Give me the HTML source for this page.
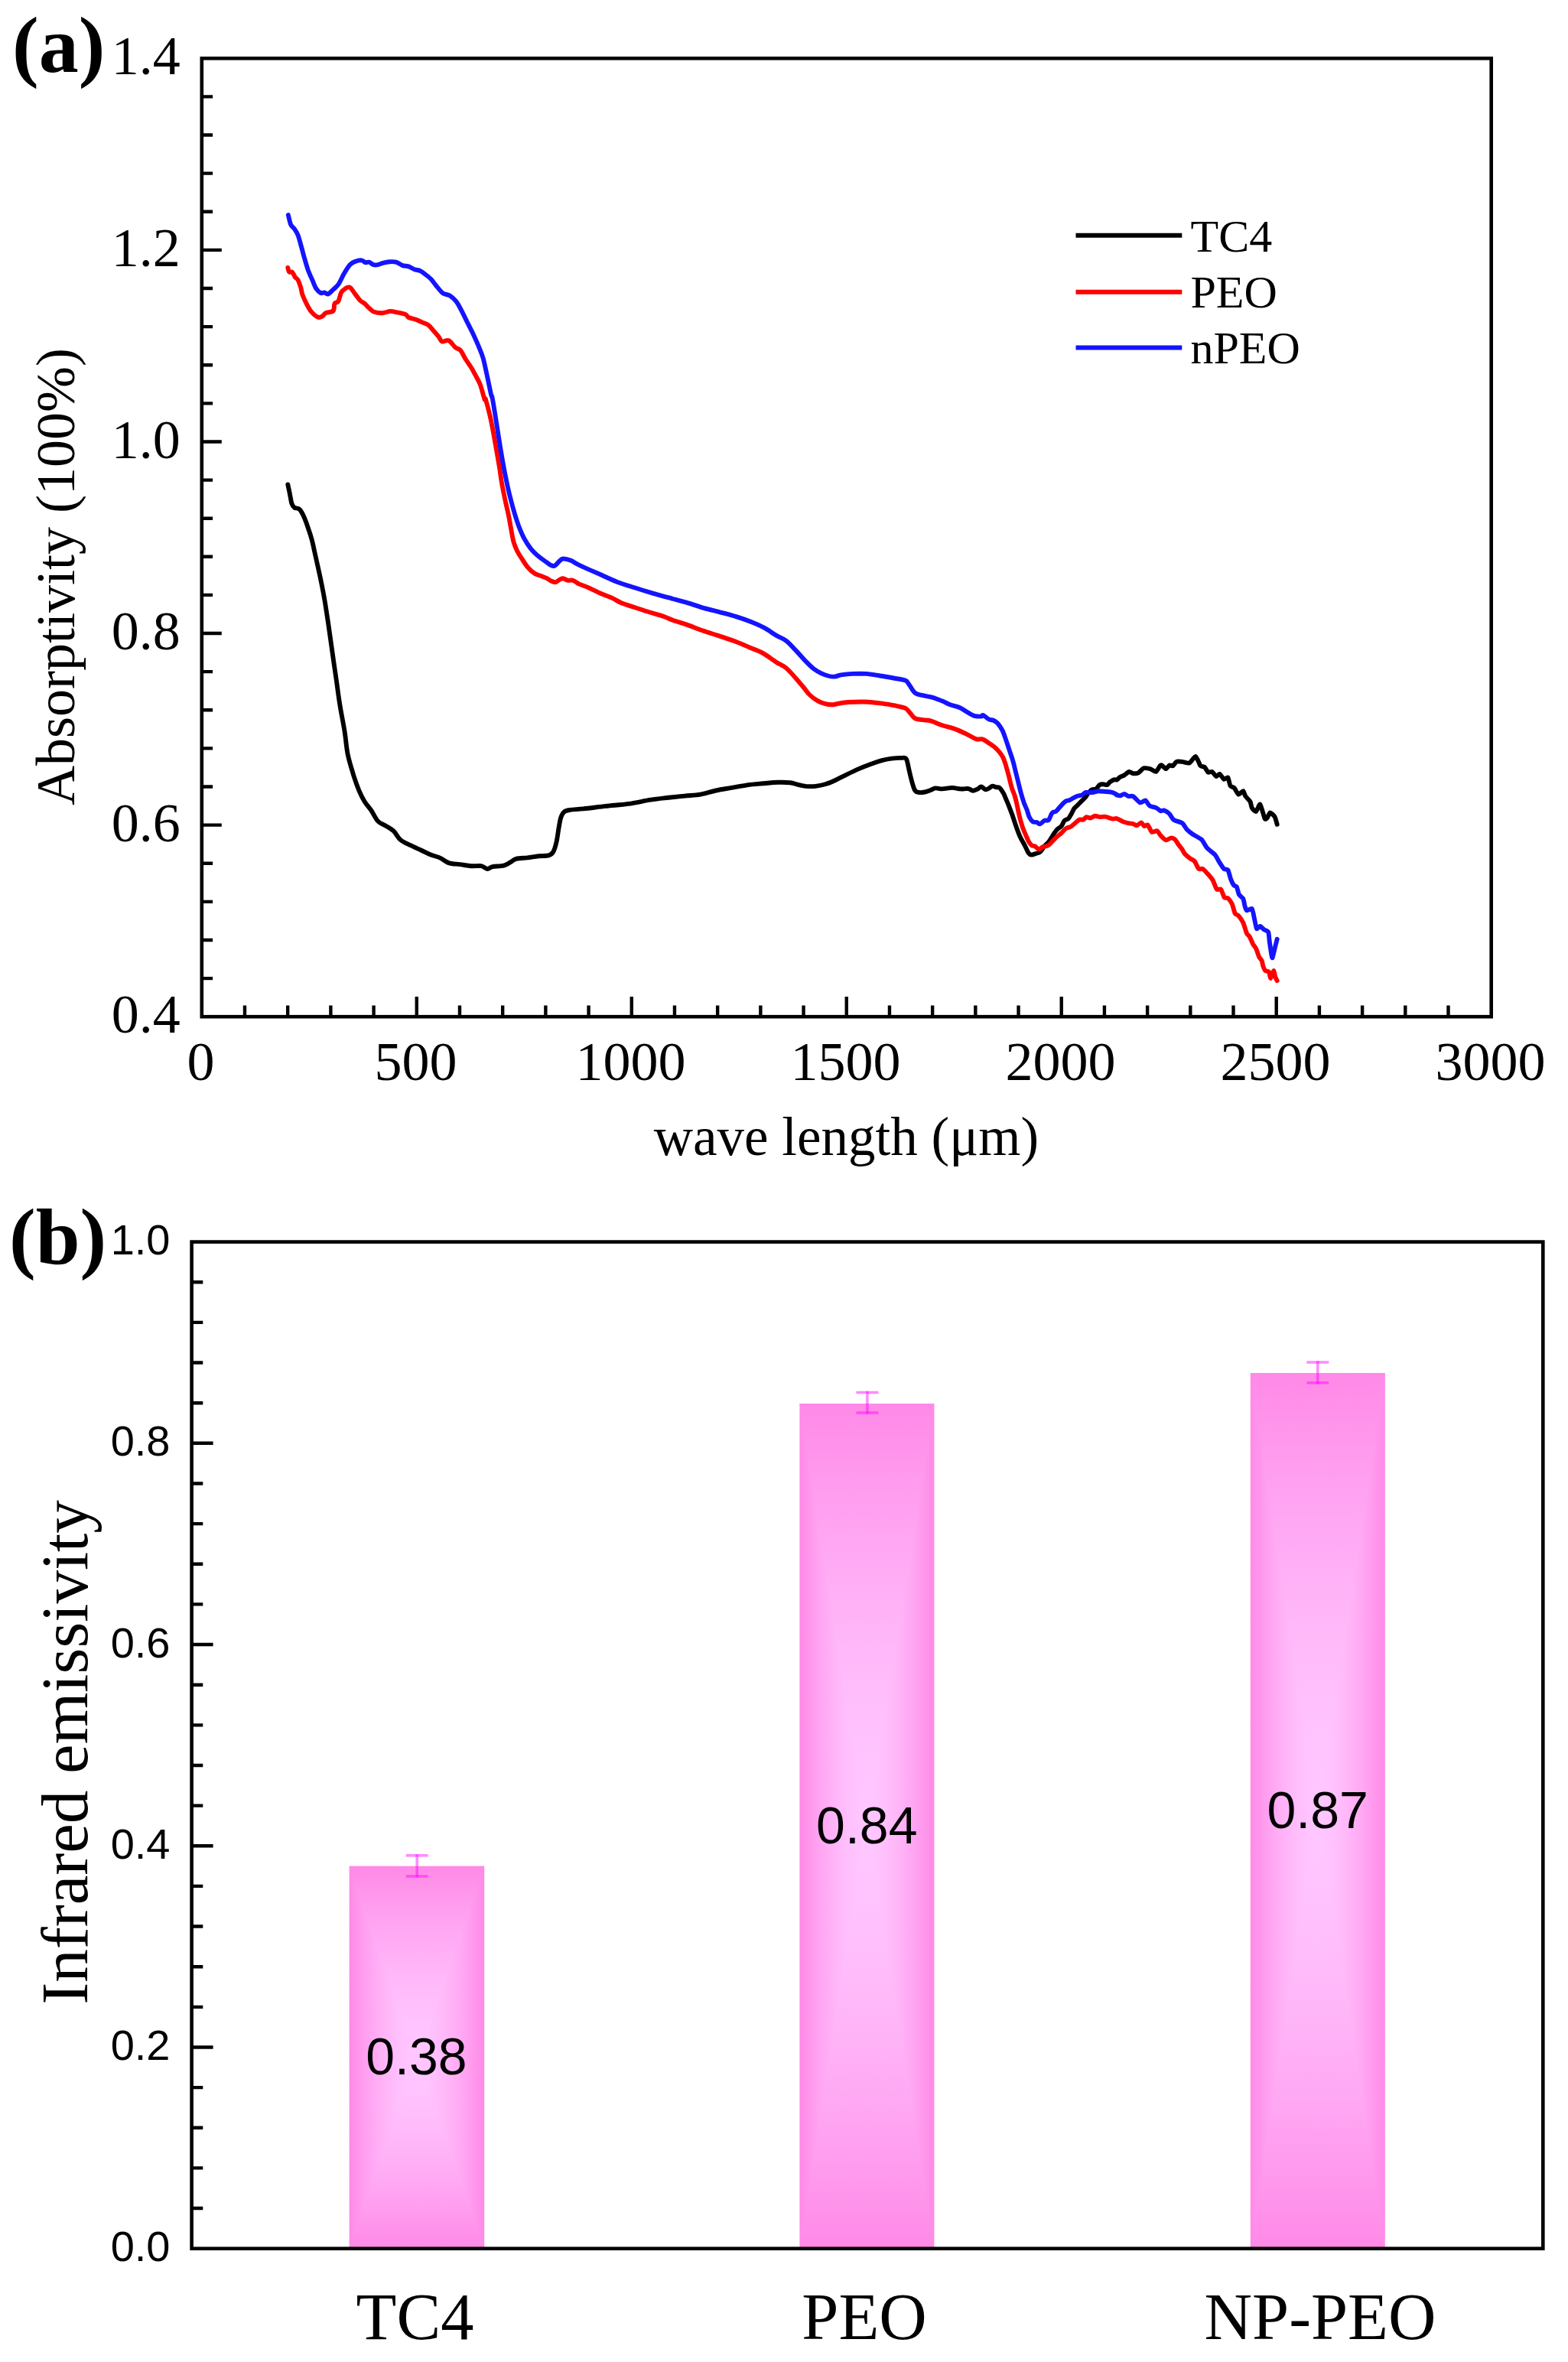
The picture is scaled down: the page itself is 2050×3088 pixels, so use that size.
<!DOCTYPE html>
<html lang="en"><head><meta charset="utf-8"><title>Absorptivity and infrared emissivity</title>
<style>html,body{margin:0;padding:0;background:#fff}svg{display:block}.s{font-family:"Liberation Serif",serif}.a{font-family:"Liberation Sans",sans-serif}.ax{stroke:#000;fill:none;stroke-linecap:butt}</style></head><body>
<svg width="2050" height="3088" viewBox="0 0 2050 3088">
<defs><linearGradient id="gh" x1="0" y1="0" x2="1" y2="0"><stop offset="0.0000" stop-color="#ff89e7"/><stop offset="0.0417" stop-color="#ff91ea"/><stop offset="0.0833" stop-color="#ff99ed"/><stop offset="0.1250" stop-color="#ffa0f0"/><stop offset="0.1667" stop-color="#ffa7f3"/><stop offset="0.2083" stop-color="#ffadf5"/><stop offset="0.2500" stop-color="#ffb3f7"/><stop offset="0.2917" stop-color="#ffb8f9"/><stop offset="0.3333" stop-color="#ffbcfb"/><stop offset="0.3750" stop-color="#ffc0fd"/><stop offset="0.4167" stop-color="#ffc3fe"/><stop offset="0.4583" stop-color="#ffc5ff"/><stop offset="0.5000" stop-color="#ffc6ff"/><stop offset="0.5417" stop-color="#ffc5ff"/><stop offset="0.5833" stop-color="#ffc3fe"/><stop offset="0.6250" stop-color="#ffc0fd"/><stop offset="0.6667" stop-color="#ffbcfb"/><stop offset="0.7083" stop-color="#ffb8f9"/><stop offset="0.7500" stop-color="#ffb3f7"/><stop offset="0.7917" stop-color="#ffadf5"/><stop offset="0.8333" stop-color="#ffa7f3"/><stop offset="0.8750" stop-color="#ffa0f0"/><stop offset="0.9167" stop-color="#ff99ed"/><stop offset="0.9583" stop-color="#ff91ea"/><stop offset="1.0000" stop-color="#ff89e7"/></linearGradient><linearGradient id="gt" x1="0" y1="0" x2="0" y2="1"><stop offset="0.0000" stop-color="#ff89e7"/><stop offset="0.0833" stop-color="#ff91ea"/><stop offset="0.1667" stop-color="#ff99ed"/><stop offset="0.2500" stop-color="#ffa0f0"/><stop offset="0.3333" stop-color="#ffa7f3"/><stop offset="0.4167" stop-color="#ffadf5"/><stop offset="0.5000" stop-color="#ffb3f7"/><stop offset="0.5833" stop-color="#ffb8f9"/><stop offset="0.6667" stop-color="#ffbcfb"/><stop offset="0.7500" stop-color="#ffc0fd"/><stop offset="0.8333" stop-color="#ffc3fe"/><stop offset="0.9167" stop-color="#ffc5ff"/><stop offset="1.0000" stop-color="#ffc6ff"/></linearGradient><linearGradient id="gb" x1="0" y1="0" x2="0" y2="1"><stop offset="0.0000" stop-color="#ffc6ff"/><stop offset="0.0833" stop-color="#ffc5ff"/><stop offset="0.1667" stop-color="#ffc3fe"/><stop offset="0.2500" stop-color="#ffc0fd"/><stop offset="0.3333" stop-color="#ffbcfb"/><stop offset="0.4167" stop-color="#ffb8f9"/><stop offset="0.5000" stop-color="#ffb3f7"/><stop offset="0.5833" stop-color="#ffadf5"/><stop offset="0.6667" stop-color="#ffa7f3"/><stop offset="0.7500" stop-color="#ffa0f0"/><stop offset="0.8333" stop-color="#ff99ed"/><stop offset="0.9167" stop-color="#ff91ea"/><stop offset="1.0000" stop-color="#ff89e7"/></linearGradient></defs>
<rect width="2050" height="3088" fill="#fff"/>
<g id="chart-a">
<rect class="ax" x="263.8" y="76.3" width="1685.9" height="1252.9" stroke-width="4.6"/>
<path class="ax" stroke-width="4.4" d="M263.8 126.42h14.3M263.8 176.53h14.3M263.8 226.65h14.3M263.8 276.76h14.3M263.8 326.88h26M263.8 377.00h14.3M263.8 427.11h14.3M263.8 477.23h14.3M263.8 527.34h14.3M263.8 577.46h26M263.8 627.58h14.3M263.8 677.69h14.3M263.8 727.81h14.3M263.8 777.92h14.3M263.8 828.04h26M263.8 878.16h14.3M263.8 928.27h14.3M263.8 978.39h14.3M263.8 1028.50h14.3M263.8 1078.62h26M263.8 1128.74h14.3M263.8 1178.85h14.3M263.8 1228.97h14.3M263.8 1279.08h14.3M320.00 1329.2v-14.7M376.19 1329.2v-14.7M432.39 1329.2v-14.7M488.59 1329.2v-14.7M544.78 1329.2v-26.2M600.98 1329.2v-14.7M657.18 1329.2v-14.7M713.37 1329.2v-14.7M769.57 1329.2v-14.7M825.77 1329.2v-26.2M881.96 1329.2v-14.7M938.16 1329.2v-14.7M994.36 1329.2v-14.7M1050.55 1329.2v-14.7M1106.75 1329.2v-26.2M1162.95 1329.2v-14.7M1219.14 1329.2v-14.7M1275.34 1329.2v-14.7M1331.54 1329.2v-14.7M1387.73 1329.2v-26.2M1443.93 1329.2v-14.7M1500.13 1329.2v-14.7M1556.32 1329.2v-14.7M1612.52 1329.2v-14.7M1668.72 1329.2v-26.2M1724.91 1329.2v-14.7M1781.11 1329.2v-14.7M1837.31 1329.2v-14.7M1893.50 1329.2v-14.7"/>
<text class="s" x="235.7" y="97.3" font-size="72" text-anchor="end">1.4</text>
<text class="s" x="235.7" y="347.9" font-size="72" text-anchor="end">1.2</text>
<text class="s" x="235.7" y="598.5" font-size="72" text-anchor="end">1.0</text>
<text class="s" x="235.7" y="849.0" font-size="72" text-anchor="end">0.8</text>
<text class="s" x="235.7" y="1099.6" font-size="72" text-anchor="end">0.6</text>
<text class="s" x="235.7" y="1350.2" font-size="72" text-anchor="end">0.4</text>
<text class="s" x="262.6" y="1411.8" font-size="72" text-anchor="middle">0</text>
<text class="s" x="543.6" y="1411.8" font-size="72" text-anchor="middle">500</text>
<text class="s" x="824.6" y="1411.8" font-size="72" text-anchor="middle">1000</text>
<text class="s" x="1105.5" y="1411.8" font-size="72" text-anchor="middle">1500</text>
<text class="s" x="1386.5" y="1411.8" font-size="72" text-anchor="middle">2000</text>
<text class="s" x="1667.5" y="1411.8" font-size="72" text-anchor="middle">2500</text>
<text class="s" x="1948.5" y="1411.8" font-size="72" text-anchor="middle">3000</text>
<text class="s" x="1106.5" y="1509.5" font-size="71" text-anchor="middle">wave length (μm)</text>
<text class="s" transform="translate(96.5 754) rotate(-90)" font-size="72" text-anchor="middle">Absorptivity (100%)</text>
<text class="s" x="16" y="94" font-size="104" font-weight="bold">(a)</text>
<path d="M376.3 633.4C376.7 635.6 378.3 642.6 379.1 646.8C380.0 650.9 380.5 655.5 381.4 658.3C382.4 661.1 383.2 662.3 384.9 663.6C386.6 664.9 389.5 663.9 391.6 665.9C393.6 667.9 395.4 671.3 397.3 675.5C399.2 679.6 401.3 685.7 403.0 690.8C404.8 695.9 406.4 700.7 407.8 706.1C409.3 711.5 410.2 716.9 411.7 723.3C413.1 729.7 414.8 737.0 416.4 744.4C418.0 751.7 419.8 760.0 421.2 767.3C422.7 774.7 423.8 780.7 425.1 788.4C426.3 796.0 427.6 804.6 428.9 813.2C430.2 821.8 431.4 831.1 432.7 840.0C434.0 849.0 435.3 857.9 436.5 866.8C437.8 875.7 439.1 884.7 440.4 893.6C441.6 902.5 442.7 911.5 444.2 920.4C445.6 929.3 447.8 940.6 449.0 947.2C450.1 953.8 450.2 953.5 451.1 960.0C452.1 966.5 452.9 977.6 454.7 986.4C456.5 995.2 459.6 1005.0 462.0 1012.8C464.4 1020.6 466.9 1027.5 469.3 1033.3C471.8 1039.2 474.0 1043.6 476.7 1048.0C479.4 1052.4 482.5 1055.4 485.5 1059.7C488.4 1064.0 491.1 1070.5 494.3 1073.8C497.5 1077.2 501.1 1077.5 504.5 1079.7C508.0 1081.8 511.6 1083.7 514.8 1086.7C518.0 1089.8 519.9 1094.8 523.6 1097.9C527.3 1101.0 532.2 1102.9 536.8 1105.2C541.5 1107.6 547.1 1109.9 551.5 1112.0C555.9 1114.0 559.3 1116.0 563.2 1117.5C567.1 1119.1 571.0 1119.6 574.9 1121.4C578.9 1123.1 582.3 1126.6 586.7 1128.1C591.1 1129.6 596.5 1129.5 601.4 1130.2C606.2 1130.8 611.4 1131.9 616.0 1132.2C620.7 1132.5 625.7 1131.6 629.2 1132.2C632.7 1132.8 634.7 1135.9 637.1 1136.0C639.6 1136.2 640.3 1133.8 643.9 1133.1C647.5 1132.4 654.6 1132.6 658.6 1131.6C662.5 1130.6 664.7 1128.7 667.4 1127.2C670.0 1125.8 671.0 1123.8 674.7 1122.8C678.4 1121.8 684.5 1121.9 689.4 1121.4C694.3 1120.8 699.4 1119.8 704.0 1119.3C708.7 1118.8 714.1 1119.3 717.2 1118.4C720.4 1117.5 721.4 1117.0 723.1 1114.0C724.8 1111.1 726.3 1106.0 727.5 1100.8C728.7 1095.7 729.5 1088.6 730.4 1083.2C731.4 1077.8 732.1 1072.2 733.4 1068.5C734.6 1064.9 735.8 1062.8 737.8 1061.2C739.7 1059.6 740.9 1059.5 745.1 1058.9C749.3 1058.2 754.9 1058.2 762.7 1057.4C770.5 1056.6 782.3 1055.0 792.0 1053.9C801.8 1052.8 811.6 1052.3 821.4 1050.9C831.2 1049.6 841.9 1047.0 850.7 1045.7C859.5 1044.3 866.8 1043.6 874.2 1042.7C881.6 1041.9 888.4 1041.3 895.3 1040.6C902.2 1039.9 908.9 1039.8 915.7 1038.6C922.5 1037.4 929.3 1034.9 936.1 1033.5C942.9 1032.0 949.7 1031.1 956.5 1029.9C963.3 1028.7 970.1 1027.3 976.9 1026.3C983.7 1025.4 990.5 1024.9 997.3 1024.3C1004.1 1023.7 1011.8 1022.9 1017.8 1022.8C1023.7 1022.6 1028.8 1022.8 1033.1 1023.3C1037.3 1023.8 1039.9 1025.1 1043.3 1025.8C1046.7 1026.6 1049.6 1027.5 1053.5 1027.9C1057.3 1028.2 1062.0 1028.3 1066.2 1027.9C1070.5 1027.4 1074.7 1026.6 1079.0 1025.3C1083.2 1024.0 1087.1 1022.3 1091.7 1020.2C1096.4 1018.1 1101.9 1015.0 1107.0 1012.6C1112.1 1010.1 1117.2 1007.6 1122.3 1005.4C1127.4 1003.2 1132.6 1001.2 1137.7 999.3C1142.8 997.4 1148.3 995.5 1153.0 994.2C1157.6 992.9 1161.5 992.2 1165.7 991.6C1170.0 991.1 1175.3 990.8 1178.5 990.9C1181.7 991.0 1183.1 989.4 1184.8 992.1C1186.5 994.9 1187.4 1002.3 1188.7 1007.4C1189.9 1012.6 1191.2 1018.4 1192.5 1022.8C1193.8 1027.1 1194.8 1031.3 1196.3 1033.5C1197.8 1035.7 1199.3 1035.7 1201.4 1036.0C1203.6 1036.4 1206.5 1036.0 1209.1 1035.5C1211.6 1035.0 1214.4 1033.8 1216.7 1033.0C1219.1 1032.1 1220.6 1030.7 1223.1 1030.4C1225.7 1030.2 1228.4 1031.5 1232.0 1031.4C1235.7 1031.3 1241.0 1029.9 1244.8 1029.9C1248.6 1029.9 1252.5 1031.2 1255.0 1031.4C1257.5 1031.7 1258.1 1031.5 1260.0 1031.4C1261.9 1031.4 1264.1 1030.7 1266.1 1031.1C1268.2 1031.5 1270.2 1033.7 1272.2 1033.7C1274.3 1033.8 1276.6 1032.3 1278.4 1031.4C1280.2 1030.5 1281.3 1028.2 1283.0 1028.4C1284.6 1028.5 1286.7 1031.8 1288.3 1032.2C1290.0 1032.6 1291.4 1031.4 1292.9 1030.7C1294.4 1029.9 1296.0 1027.9 1297.5 1027.6C1299.0 1027.3 1300.6 1028.8 1302.1 1029.1C1303.6 1029.5 1305.2 1028.8 1306.7 1029.9C1308.2 1031.0 1310.2 1034.3 1311.3 1036.0C1312.4 1037.7 1312.1 1037.3 1313.3 1040.0C1314.4 1042.7 1316.7 1048.0 1318.4 1052.2C1320.1 1056.5 1321.8 1060.7 1323.5 1065.5C1325.2 1070.3 1326.9 1076.1 1328.6 1080.8C1330.3 1085.6 1331.8 1090.0 1333.7 1094.1C1335.5 1098.2 1337.9 1101.7 1339.8 1105.3C1341.7 1108.9 1343.4 1113.5 1344.9 1115.5C1346.4 1117.6 1347.4 1117.5 1349.0 1117.6C1350.5 1117.6 1352.2 1116.7 1354.1 1116.0C1356.0 1115.3 1358.3 1115.1 1360.2 1113.5C1362.1 1111.9 1363.4 1108.5 1365.3 1106.3C1367.2 1104.1 1369.6 1102.6 1371.4 1100.2C1373.3 1097.8 1374.8 1094.6 1376.5 1092.0C1378.2 1089.5 1379.8 1086.9 1381.6 1084.9C1383.5 1082.9 1386.1 1081.8 1387.8 1079.8C1389.5 1077.8 1390.3 1074.3 1391.8 1072.7C1393.4 1071.0 1395.4 1071.6 1396.9 1070.1C1398.5 1068.6 1399.8 1065.6 1401.0 1063.5C1401.7 1062.2 1403.3 1058.5 1404.1 1057.3C1404.9 1056.2 1408.2 1053.3 1409.2 1052.2C1410.2 1051.2 1413.3 1048.2 1414.3 1047.1C1415.3 1046.1 1418.6 1043.0 1419.4 1042.0C1420.2 1041.1 1421.5 1038.5 1422.2 1037.6C1423.0 1036.6 1425.8 1033.3 1426.8 1032.7C1427.9 1032.0 1431.9 1032.1 1433.0 1031.4C1434.0 1030.8 1436.6 1026.7 1437.6 1026.1C1438.5 1025.5 1441.1 1025.3 1442.1 1025.3C1443.1 1025.3 1446.6 1026.4 1447.5 1026.1C1448.4 1025.8 1450.3 1022.9 1451.3 1022.2C1452.3 1021.6 1456.6 1019.4 1457.4 1019.2C1458.3 1018.9 1459.3 1019.9 1460.0 1019.6C1460.7 1019.2 1463.6 1016.4 1464.6 1015.8C1465.6 1015.2 1468.8 1014.2 1469.9 1013.5C1471.1 1012.8 1474.9 1009.1 1476.1 1008.9C1477.2 1008.6 1480.2 1011.0 1481.4 1011.2C1482.7 1011.3 1486.9 1011.1 1488.3 1010.4C1489.7 1009.7 1493.7 1004.8 1495.2 1004.3C1496.7 1003.8 1502.0 1004.6 1503.6 1005.1C1505.2 1005.5 1510.0 1009.3 1511.3 1008.9C1512.6 1008.5 1515.9 1002.1 1516.6 1001.2C1517.4 1000.4 1518.2 1000.1 1518.9 1000.5C1519.7 1000.8 1523.3 1005.1 1524.3 1005.1C1525.3 1005.1 1528.0 1000.8 1528.9 1000.5C1529.8 1000.1 1532.6 1001.7 1533.5 1001.2C1534.4 1000.8 1536.8 996.4 1538.1 995.9C1539.3 995.3 1544.0 995.7 1545.7 995.9C1547.4 996.0 1553.1 998.1 1554.9 997.4C1556.7 996.7 1561.9 988.6 1563.3 989.0C1564.8 989.4 1568.3 999.8 1569.4 1001.2C1570.6 1002.6 1573.8 1001.9 1574.8 1002.8C1575.8 1003.6 1578.4 1009.0 1579.4 1009.6C1580.4 1010.3 1583.7 1008.3 1584.7 1008.9C1585.8 1009.4 1589.1 1014.7 1590.1 1015.0C1591.1 1015.3 1593.7 1011.6 1594.7 1011.9C1595.7 1012.3 1599.0 1018.4 1600.1 1018.8C1601.1 1019.3 1604.6 1015.7 1605.4 1016.5C1606.2 1017.4 1607.6 1025.9 1608.5 1027.2C1609.3 1028.6 1612.8 1029.2 1613.8 1030.3C1614.9 1031.5 1618.0 1038.3 1619.2 1038.7C1620.3 1039.1 1624.4 1033.9 1625.3 1034.1C1626.2 1034.4 1627.4 1039.6 1628.4 1041.0C1629.3 1042.4 1633.6 1046.4 1634.5 1047.9C1635.3 1049.4 1636.0 1055.0 1636.8 1056.3C1637.6 1057.6 1641.1 1061.4 1642.1 1060.9C1643.2 1060.5 1646.4 1050.8 1647.5 1051.7C1648.6 1052.7 1652.7 1068.3 1653.6 1070.1C1654.5 1071.9 1656.0 1070.1 1656.7 1069.3C1657.4 1068.6 1659.5 1062.6 1660.5 1062.4C1661.5 1062.3 1665.7 1066.3 1666.6 1067.8C1667.6 1069.3 1669.4 1076.8 1669.7 1077.8" fill="none" stroke="#000" stroke-width="5.9" stroke-linejoin="round" stroke-linecap="round"/>
<path d="M376.3 349.9C376.6 350.9 377.2 354.7 378.2 355.7C379.1 356.6 380.7 354.5 382.0 355.7C383.3 356.8 384.6 360.6 385.8 362.4C387.1 364.1 388.4 363.8 389.7 366.2C390.9 368.6 392.5 373.5 393.5 376.7C394.4 379.9 394.1 381.8 395.4 385.3C396.7 388.8 399.2 394.1 401.1 397.8C403.0 401.4 404.5 404.5 406.9 407.3C409.3 410.1 413.1 413.5 415.5 414.6C417.9 415.6 419.5 414.5 421.2 413.6C423.0 412.7 423.6 410.4 426.0 409.2C428.4 408.0 433.7 408.4 435.6 406.4C437.5 404.3 436.4 398.9 437.5 396.8C438.6 394.7 440.8 396.3 442.3 393.9C443.7 391.5 444.7 385.2 446.1 382.4C447.5 379.7 449.0 378.8 450.9 377.7C452.8 376.5 455.3 374.6 457.6 375.8C459.8 376.9 462.0 381.5 464.3 384.4C466.5 387.2 468.9 390.9 471.0 393.0C473.0 395.0 474.6 395.0 476.7 396.8C478.8 398.6 481.3 401.7 483.4 403.5C485.5 405.3 486.4 406.7 489.1 407.7C491.9 408.7 496.2 409.4 499.7 409.2C503.2 409.1 507.0 407.1 510.2 406.9C513.4 406.8 515.5 407.6 518.8 408.3C522.1 409.0 527.7 410.0 530.3 411.1C532.8 412.3 531.9 413.9 534.1 415.0C536.3 416.1 540.8 416.8 543.7 417.8C546.5 418.9 548.6 419.9 551.3 421.1C554.0 422.3 557.4 423.1 559.9 424.9C562.5 426.8 564.4 429.7 566.6 432.2C568.9 434.7 571.4 437.5 573.3 439.8C575.2 442.2 575.9 445.7 578.1 446.5C580.3 447.4 583.9 443.9 586.7 445.2C589.6 446.5 592.8 452.1 595.3 454.2C597.9 456.3 599.8 455.5 602.0 458.0C604.3 460.6 606.3 465.7 608.7 469.5C611.1 473.3 614.1 477.3 616.4 481.0C618.6 484.6 620.2 487.8 622.1 491.5C624.0 495.2 625.9 497.9 627.9 503.0C629.8 508.1 632.4 518.9 633.6 522.1C634.8 525.3 633.7 518.4 634.9 522.0C636.0 525.7 639.0 536.7 640.7 544.0C642.4 551.4 643.7 558.7 645.1 566.1C646.5 573.4 647.7 580.7 649.0 588.1C650.2 595.4 651.6 602.8 652.8 610.1C654.0 617.4 654.8 624.8 656.1 632.1C657.4 639.4 659.0 646.8 660.5 654.1C662.1 661.5 663.9 668.8 665.4 676.1C666.8 683.5 668.3 692.7 669.3 698.2C670.4 703.7 670.6 705.5 671.7 709.2C672.9 712.8 674.3 716.5 676.1 720.2C678.0 723.9 680.4 727.5 682.8 731.2C685.1 734.9 687.7 739.1 690.5 742.2C693.2 745.3 696.3 748.1 699.3 749.9C702.2 751.7 705.3 752.1 708.1 753.2C710.8 754.3 713.7 755.5 715.8 756.5C717.9 757.6 718.8 758.8 720.5 759.5C722.3 760.3 724.4 761.4 726.3 761.1C728.2 760.8 730.4 758.4 732.0 757.6C733.7 756.8 734.5 756.1 736.2 756.3C738.0 756.5 740.4 758.4 742.5 758.8C744.7 759.2 746.8 758.0 749.2 758.8C751.6 759.5 753.4 761.7 756.9 763.4C760.4 765.0 765.5 766.6 770.3 768.7C775.1 770.8 780.5 773.8 785.6 776.0C790.7 778.2 796.4 780.1 800.9 782.1C805.4 784.2 807.6 786.3 812.4 788.2C817.2 790.2 823.5 792.0 829.6 794.0C835.7 796.0 842.3 798.3 848.7 800.3C855.1 802.3 862.6 804.2 867.9 806.0C873.1 807.8 875.0 809.3 880.0 811.0C885.0 812.8 891.5 814.4 897.9 816.6C904.2 818.8 911.5 821.9 918.3 824.3C925.1 826.7 931.9 828.7 938.7 830.9C945.5 833.2 952.3 835.3 959.1 837.8C965.9 840.4 973.1 843.5 979.5 846.2C985.9 848.9 991.4 850.6 997.3 853.9C1003.3 857.2 1010.1 862.6 1015.2 865.9C1020.3 869.1 1023.7 870.0 1028.0 873.5C1032.2 877.0 1036.9 882.8 1040.7 887.0C1044.5 891.3 1047.9 895.5 1050.9 899.0C1053.9 902.6 1055.6 905.6 1058.6 908.5C1061.5 911.3 1065.4 914.2 1068.8 916.1C1072.2 918.1 1075.6 919.4 1079.0 920.2C1082.4 921.1 1085.4 921.5 1089.2 921.2C1093.0 921.0 1097.3 919.3 1101.9 918.7C1106.6 918.1 1111.7 917.8 1117.2 917.7C1122.8 917.5 1129.1 917.3 1135.1 917.7C1141.1 918.0 1147.4 918.9 1153.0 919.7C1158.5 920.5 1163.2 921.2 1168.3 922.2C1173.4 923.3 1180.0 924.2 1183.6 925.8C1187.2 927.5 1187.8 930.0 1189.9 932.2C1192.1 934.4 1193.6 937.6 1196.3 939.1C1199.1 940.6 1203.1 940.6 1206.5 941.1C1209.9 941.7 1212.5 941.2 1216.7 942.4C1221.0 943.6 1226.9 946.6 1232.0 948.3C1237.1 950.0 1242.7 951.0 1247.3 952.6C1252.0 954.2 1256.6 956.4 1260.0 958.0C1263.4 959.5 1264.8 960.4 1267.7 961.8C1270.5 963.2 1274.0 965.6 1276.8 966.4C1279.6 967.1 1281.9 965.6 1284.5 966.4C1287.0 967.1 1289.6 969.3 1292.1 971.0C1294.7 972.6 1297.5 974.4 1299.8 976.3C1302.1 978.2 1304.0 980.2 1305.9 982.4C1307.8 984.7 1309.7 987.0 1311.3 990.1C1312.8 993.2 1313.8 996.7 1315.1 1000.8C1316.4 1004.9 1317.7 1009.7 1318.9 1014.6C1320.2 1019.4 1321.5 1025.7 1322.8 1029.9C1324.0 1034.1 1325.4 1036.3 1326.5 1040.0C1327.7 1043.7 1328.6 1047.8 1329.6 1052.2C1330.6 1056.7 1331.5 1061.8 1332.7 1066.5C1333.8 1071.3 1335.4 1076.7 1336.7 1080.8C1338.1 1084.9 1339.5 1087.8 1340.8 1091.0C1342.2 1094.3 1343.5 1097.8 1344.9 1100.2C1346.3 1102.6 1347.6 1104.3 1349.0 1105.3C1350.3 1106.3 1351.5 1105.5 1353.1 1106.3C1354.6 1107.2 1356.5 1110.2 1358.2 1110.4C1359.9 1110.6 1361.2 1108.2 1363.3 1107.3C1365.3 1106.5 1368.2 1106.7 1370.4 1105.3C1372.6 1103.9 1374.7 1101.1 1376.5 1099.2C1378.4 1097.3 1379.8 1095.8 1381.6 1094.1C1383.5 1092.4 1385.7 1090.9 1387.8 1089.0C1389.8 1087.1 1391.8 1084.2 1393.9 1082.9C1395.9 1081.5 1398.0 1082.0 1400.0 1080.8C1401.2 1080.1 1405.0 1076.6 1406.1 1075.7C1407.2 1074.8 1410.2 1072.0 1411.2 1071.6C1412.2 1071.2 1415.4 1072.0 1416.3 1071.6C1417.2 1071.3 1419.5 1068.3 1420.4 1068.1C1421.3 1067.9 1424.4 1069.7 1425.5 1069.6C1426.6 1069.5 1430.4 1066.9 1431.6 1066.7C1432.9 1066.6 1436.4 1068.0 1437.8 1068.1C1439.1 1068.1 1443.6 1067.4 1444.9 1067.6C1446.2 1067.7 1450.0 1069.3 1451.0 1069.6C1452.0 1069.9 1454.2 1070.6 1455.1 1070.6C1456.0 1070.7 1458.7 1069.8 1460.0 1070.1C1461.3 1070.4 1466.1 1073.3 1467.7 1073.9C1469.2 1074.5 1473.9 1075.9 1475.3 1076.2C1476.7 1076.5 1480.4 1076.7 1481.4 1077.0C1482.5 1077.3 1484.9 1079.4 1486.0 1079.3C1487.1 1079.1 1491.1 1075.4 1492.1 1075.5C1493.1 1075.5 1495.1 1079.7 1496.0 1080.1C1496.8 1080.4 1499.6 1077.8 1500.6 1078.5C1501.6 1079.3 1504.7 1086.9 1505.9 1087.7C1507.1 1088.5 1511.7 1085.7 1512.8 1086.2C1514.0 1086.6 1516.2 1091.1 1517.4 1092.3C1518.5 1093.5 1522.9 1098.1 1524.3 1098.4C1525.7 1098.7 1529.9 1095.4 1531.2 1095.4C1532.4 1095.3 1535.6 1096.8 1536.5 1097.7C1537.4 1098.5 1539.4 1102.5 1540.4 1103.8C1541.3 1105.1 1544.9 1109.4 1545.7 1110.7C1546.6 1111.9 1547.8 1114.9 1548.8 1116.0C1549.8 1117.2 1554.4 1121.1 1555.7 1122.1C1557.0 1123.1 1560.6 1124.6 1561.8 1126.0C1562.9 1127.3 1566.1 1134.9 1567.1 1135.9C1568.2 1136.9 1571.4 1135.3 1572.5 1135.9C1573.6 1136.5 1577.3 1140.6 1578.6 1142.0C1579.9 1143.5 1584.3 1148.4 1585.5 1150.5C1586.7 1152.5 1589.8 1161.5 1590.9 1162.7C1591.9 1163.9 1595.2 1161.6 1596.2 1162.7C1597.2 1163.8 1599.9 1172.3 1600.8 1173.4C1601.7 1174.6 1604.4 1173.3 1605.4 1174.2C1606.4 1175.0 1609.8 1179.8 1610.8 1181.8C1611.7 1183.8 1613.8 1192.6 1614.6 1194.1C1615.4 1195.6 1618.1 1195.9 1619.2 1197.1C1620.3 1198.4 1624.2 1204.0 1625.3 1206.3C1626.4 1208.6 1629.1 1218.3 1629.9 1220.1C1630.7 1221.9 1632.9 1223.2 1633.7 1224.7C1634.6 1226.1 1637.5 1233.1 1638.3 1234.6C1639.2 1236.2 1641.4 1238.4 1642.1 1240.0C1642.9 1241.6 1645.2 1249.1 1646.0 1250.7C1646.7 1252.3 1649.3 1254.8 1649.8 1256.1C1650.3 1257.3 1650.9 1261.7 1651.3 1263.0C1651.8 1264.3 1653.6 1268.3 1654.4 1269.1C1655.2 1269.8 1658.3 1269.6 1659.0 1270.6C1659.7 1271.6 1660.7 1279.2 1661.3 1279.0C1661.9 1278.9 1664.5 1269.2 1665.1 1269.1C1665.7 1268.9 1666.9 1276.2 1667.4 1277.5C1667.9 1278.8 1669.5 1281.6 1669.7 1282.1" fill="none" stroke="#f00" stroke-width="5.9" stroke-linejoin="round" stroke-linecap="round"/>
<path d="M376.8 281.0C377.4 283.1 378.8 290.5 380.1 293.5C381.4 296.5 383.3 296.8 384.9 299.2C386.5 301.6 388.1 303.7 389.7 307.8C391.2 312.0 393.0 319.0 394.4 324.1C395.9 329.2 396.8 333.5 398.3 338.4C399.7 343.4 401.3 349.0 403.0 353.8C404.8 358.5 407.0 363.2 408.8 367.1C410.5 371.1 411.8 375.0 413.6 377.7C415.3 380.3 417.6 382.2 419.3 383.0C421.1 383.8 422.5 382.2 424.1 382.4C425.7 382.7 427.0 385.0 428.9 384.4C430.8 383.7 433.3 380.7 435.6 378.6C437.8 376.5 439.9 375.4 442.3 371.9C444.7 368.4 447.4 361.9 449.9 357.6C452.5 353.3 455.2 348.7 457.6 346.1C460.0 343.5 461.7 342.8 464.3 341.9C466.8 340.9 470.7 340.1 472.9 340.4C475.1 340.6 476.1 342.8 477.7 343.2C479.3 343.6 480.7 342.2 482.4 342.7C484.2 343.1 486.3 345.5 488.2 346.1C490.1 346.7 491.9 346.5 493.9 346.1C496.0 345.7 498.1 344.4 500.6 343.8C503.2 343.2 506.4 342.5 509.2 342.3C512.1 342.1 515.0 341.9 517.8 342.7C520.7 343.5 523.7 346.1 526.5 347.1C529.2 348.0 531.6 347.5 534.1 348.4C536.7 349.3 539.2 351.3 541.8 352.2C544.3 353.2 546.9 352.9 549.4 354.1C552.0 355.3 554.7 357.6 557.1 359.5C559.5 361.3 561.5 362.8 563.8 365.2C566.0 367.6 567.9 370.8 570.5 373.8C573.0 376.9 576.2 381.3 579.1 383.4C581.9 385.5 584.8 384.5 587.7 386.3C590.5 388.0 593.7 390.7 596.3 393.9C598.8 397.1 600.6 400.9 603.0 405.4C605.4 409.9 608.1 415.6 610.6 420.7C613.2 425.8 615.7 430.6 618.3 436.0C620.8 441.4 623.7 447.8 625.9 453.2C628.2 458.7 629.9 462.5 631.7 468.5C633.4 474.6 634.7 481.6 636.5 489.6C638.2 497.6 641.0 511.3 642.2 516.4C643.4 521.4 642.7 515.3 643.6 520.0C644.6 524.7 646.3 535.6 647.8 544.9C649.3 554.1 651.0 565.6 652.6 575.5C654.2 585.4 655.8 595.3 657.4 604.2C659.0 613.1 660.6 621.4 662.2 629.1C663.8 636.7 665.2 643.1 667.0 650.1C668.7 657.1 670.8 664.8 672.7 671.1C674.6 677.5 676.4 682.9 678.4 688.4C680.5 693.8 682.6 698.9 685.1 703.7C687.7 708.5 690.6 713.1 693.8 717.1C696.9 721.1 700.8 724.6 704.3 727.6C707.8 730.6 712.1 733.3 714.8 735.2C717.5 737.2 718.8 738.3 720.5 739.1C722.3 739.8 723.6 740.5 725.3 739.6C727.1 738.8 729.2 735.4 731.1 733.9C732.9 732.4 733.7 730.7 736.2 730.5C738.8 730.3 743.2 731.5 746.4 732.8C749.5 734.0 751.3 735.9 755.0 737.7C758.6 739.6 763.6 741.7 768.4 743.9C773.2 746.0 777.3 747.7 783.7 750.5C790.1 753.4 799.0 757.7 806.6 760.7C814.3 763.7 821.9 765.9 829.6 768.3C837.2 770.8 844.9 773.2 852.6 775.4C860.2 777.7 870.9 780.5 875.5 781.7C880.1 783.0 875.9 781.8 880.0 783.0C884.1 784.1 893.6 786.5 900.4 788.6C907.2 790.6 914.0 793.2 920.8 795.2C927.6 797.2 934.4 798.5 941.2 800.3C948.0 802.1 954.8 803.8 961.6 805.9C968.4 808.0 975.7 810.5 982.0 813.1C988.4 815.6 994.4 818.2 999.9 821.2C1005.4 824.2 1010.5 828.2 1015.2 830.9C1019.9 833.7 1023.7 834.5 1028.0 837.8C1032.2 841.1 1036.5 846.1 1040.7 850.6C1045.0 855.0 1049.6 860.6 1053.5 864.6C1057.3 868.5 1060.3 871.6 1063.7 874.3C1067.1 876.9 1070.5 878.8 1073.9 880.4C1077.3 882.0 1081.1 883.3 1084.1 884.0C1087.1 884.7 1089.2 884.7 1091.7 884.5C1094.3 884.2 1095.6 883.0 1099.4 882.4C1103.2 881.9 1109.2 881.2 1114.7 880.9C1120.2 880.7 1126.6 880.5 1132.6 880.9C1138.5 881.3 1144.5 882.5 1150.4 883.5C1156.4 884.4 1162.7 885.5 1168.3 886.5C1173.8 887.6 1180.2 888.1 1183.6 889.6C1187.0 891.0 1186.5 892.5 1188.7 895.2C1190.8 897.9 1193.4 903.6 1196.3 905.9C1199.3 908.3 1202.7 908.3 1206.5 909.2C1210.4 910.2 1215.0 910.6 1219.3 911.8C1223.5 913.0 1228.2 915.1 1232.0 916.6C1235.9 918.2 1238.4 919.8 1242.2 921.2C1246.1 922.7 1251.0 923.5 1255.0 925.3C1259.0 927.1 1263.0 930.2 1266.1 931.9C1269.3 933.7 1271.0 935.0 1273.8 935.8C1276.6 936.5 1281.0 936.7 1283.0 936.5C1284.9 936.4 1283.6 934.4 1285.3 935.0C1286.9 935.6 1290.6 939.2 1292.9 940.4C1295.2 941.5 1297.1 941.0 1299.0 941.9C1300.9 942.8 1302.5 943.5 1304.4 945.7C1306.3 947.9 1308.7 951.3 1310.5 954.9C1312.3 958.5 1313.6 962.8 1315.1 967.1C1316.6 971.5 1318.2 976.3 1319.7 980.9C1321.2 985.5 1322.9 989.8 1324.3 994.7C1325.7 999.5 1326.8 1004.9 1328.1 1010.0C1329.4 1015.1 1330.8 1020.7 1331.9 1025.3C1333.1 1029.9 1333.9 1033.5 1335.0 1037.6C1336.1 1041.6 1337.6 1046.2 1338.8 1049.8C1340.1 1053.4 1341.5 1055.9 1342.7 1059.0C1343.8 1062.0 1344.4 1065.6 1345.7 1068.2C1347.0 1070.7 1348.6 1073.1 1350.3 1074.3C1352.0 1075.4 1354.1 1074.5 1355.7 1075.1C1357.2 1075.6 1357.8 1077.7 1359.5 1077.3C1361.1 1077.0 1363.7 1073.6 1365.6 1072.8C1367.5 1071.9 1369.3 1073.6 1371.0 1072.0C1372.6 1070.3 1373.9 1064.7 1375.6 1062.8C1377.2 1060.9 1379.1 1061.9 1380.9 1060.5C1382.7 1059.1 1384.2 1056.6 1386.3 1054.4C1388.3 1052.2 1391.1 1048.9 1393.2 1047.5C1395.2 1046.1 1396.2 1047.0 1398.5 1046.0C1400.8 1044.9 1404.3 1042.5 1406.9 1041.4C1408.5 1040.7 1413.4 1039.9 1414.6 1039.4C1415.8 1038.9 1417.8 1036.4 1419.2 1036.0C1420.6 1035.7 1426.7 1036.2 1428.4 1036.0C1430.1 1035.8 1434.5 1034.3 1436.0 1034.2C1437.6 1034.1 1442.0 1034.6 1443.7 1034.8C1445.4 1034.9 1451.2 1035.3 1452.9 1035.7C1454.5 1036.1 1459.8 1038.7 1460.5 1039.1C1461.2 1039.5 1459.6 1039.4 1460.0 1039.5C1460.4 1039.6 1463.6 1040.4 1464.6 1040.3C1465.6 1040.1 1468.9 1037.9 1469.9 1038.0C1471.0 1038.0 1474.2 1040.7 1475.3 1041.0C1476.5 1041.3 1479.9 1040.2 1481.4 1041.0C1483.0 1041.9 1489.0 1048.9 1490.6 1049.4C1492.2 1050.0 1496.3 1046.0 1497.5 1046.4C1498.7 1046.8 1501.4 1052.3 1502.9 1053.3C1504.3 1054.3 1510.6 1055.6 1512.0 1056.3C1513.5 1057.0 1516.4 1059.8 1517.4 1060.2C1518.4 1060.5 1520.8 1059.0 1522.0 1059.4C1523.1 1059.8 1527.7 1062.8 1528.9 1064.0C1530.1 1065.2 1532.6 1070.4 1534.2 1071.6C1535.9 1072.9 1544.0 1074.9 1545.7 1076.2C1547.5 1077.5 1550.5 1083.2 1551.8 1084.6C1553.2 1086.1 1557.6 1089.5 1559.5 1090.8C1561.4 1092.1 1569.1 1095.9 1571.0 1097.7C1572.8 1099.4 1576.1 1106.4 1577.9 1108.4C1579.6 1110.4 1587.0 1115.7 1588.6 1117.6C1590.2 1119.4 1592.8 1124.9 1593.9 1126.7C1595.1 1128.6 1598.9 1134.8 1600.1 1135.9C1601.2 1137.0 1604.5 1136.1 1605.4 1137.4C1606.3 1138.8 1608.5 1147.7 1609.2 1149.7C1610.0 1151.7 1612.3 1156.4 1613.1 1157.3C1613.8 1158.3 1616.2 1158.4 1616.9 1159.6C1617.6 1160.9 1619.1 1168.1 1619.9 1169.6C1620.8 1171.1 1624.5 1173.4 1625.3 1174.9C1626.1 1176.5 1627.1 1183.4 1627.6 1184.9C1628.1 1186.4 1629.0 1189.9 1629.9 1190.3C1630.8 1190.6 1635.8 1187.0 1636.8 1188.0C1637.8 1189.0 1639.2 1197.6 1639.8 1200.2C1640.5 1202.8 1642.1 1212.9 1642.9 1214.0C1643.7 1215.1 1646.5 1210.8 1647.5 1210.9C1648.5 1211.1 1651.8 1214.7 1652.9 1215.5C1653.9 1216.3 1657.5 1217.0 1658.2 1218.6C1658.9 1220.1 1659.4 1228.1 1659.7 1230.8C1660.1 1233.6 1661.7 1244.0 1662.0 1246.1C1662.4 1248.3 1663.1 1252.9 1663.6 1252.2C1664.0 1251.6 1666.0 1242.4 1666.6 1240.0C1667.2 1237.6 1669.4 1229.0 1669.7 1227.8" fill="none" stroke="#1414ff" stroke-width="5.9" stroke-linejoin="round" stroke-linecap="round"/>
<path d="M1406.5 307.7H1545.3" stroke="#000" stroke-width="6" fill="none"/>
<text class="s" x="1556.5" y="329" font-size="60">TC4</text>
<path d="M1406.5 381.7H1545.3" stroke="#f00" stroke-width="6" fill="none"/>
<text class="s" x="1556.5" y="402" font-size="60">PEO</text>
<path d="M1406.5 454.6H1545.3" stroke="#1414ff" stroke-width="6" fill="none"/>
<text class="s" x="1556.5" y="475.3" font-size="60">nPEO</text>
</g>
<g id="chart-b">
<rect x="456.6" y="2439.8" width="176.6" height="499.9" fill="url(#gh)"/><path d="M456.6 2439.8H633.2L544.90 2689.75Z" fill="url(#gt)"/><path d="M456.6 2939.7H633.2L544.90 2689.75Z" fill="url(#gb)"/>
<g stroke="#f0f" stroke-opacity=".45" stroke-width="3.6" fill="none"><path d="M545.2 2424.0V2454.8"/><path d="M530.7 2425.8h29"/><path d="M530.7 2453.0h29"/></g>
<rect x="1045.4" y="1835.0" width="176.0" height="1104.7" fill="url(#gh)"/><path d="M1045.4 1835.0H1221.4L1133.40 2387.35Z" fill="url(#gt)"/><path d="M1045.4 2939.7H1221.4L1133.40 2387.35Z" fill="url(#gb)"/>
<g stroke="#f0f" stroke-opacity=".45" stroke-width="3.6" fill="none"><path d="M1133.9 1818.7V1848.8"/><path d="M1119.4 1820.5h29"/><path d="M1119.4 1847.0h29"/></g>
<rect x="1634.8" y="1795.0" width="176.0" height="1144.7" fill="url(#gh)"/><path d="M1634.8 1795.0H1810.8L1722.80 2367.35Z" fill="url(#gt)"/><path d="M1634.8 2939.7H1810.8L1722.80 2367.35Z" fill="url(#gb)"/>
<g stroke="#f0f" stroke-opacity=".45" stroke-width="3.6" fill="none"><path d="M1722.8 1779.2V1809.6"/><path d="M1708.3 1781.0h29"/><path d="M1708.3 1807.8h29"/></g>
<rect class="ax" x="250.6" y="1623.6" width="1766.7" height="1316.1" stroke-width="4.6"/>
<path class="ax" stroke-width="4.4" d="M250.6 1676.24h14.7M250.6 1728.89h14.7M250.6 1781.53h14.7M250.6 1834.18h14.7M250.6 1886.82h28M250.6 1939.46h14.7M250.6 1992.11h14.7M250.6 2044.75h14.7M250.6 2097.40h14.7M250.6 2150.04h28M250.6 2202.68h14.7M250.6 2255.33h14.7M250.6 2307.97h14.7M250.6 2360.62h14.7M250.6 2413.26h28M250.6 2465.90h14.7M250.6 2518.55h14.7M250.6 2571.19h14.7M250.6 2623.84h14.7M250.6 2676.48h28M250.6 2729.12h14.7M250.6 2781.77h14.7M250.6 2834.41h14.7M250.6 2887.06h14.7"/>
<text class="a" x="222.5" y="1640.1" font-size="56" text-anchor="end">1.0</text>
<text class="a" x="222.5" y="1903.3" font-size="56" text-anchor="end">0.8</text>
<text class="a" x="222.5" y="2166.5" font-size="56" text-anchor="end">0.6</text>
<text class="a" x="222.5" y="2429.8" font-size="56" text-anchor="end">0.4</text>
<text class="a" x="222.5" y="2693.0" font-size="56" text-anchor="end">0.2</text>
<text class="a" x="222.5" y="2956.2" font-size="56" text-anchor="end">0.0</text>
<text class="a" x="544.4" y="2712.2" font-size="68" text-anchor="middle">0.38</text>
<text class="a" x="1133.3" y="2409.5" font-size="68" text-anchor="middle">0.84</text>
<text class="a" x="1722.7" y="2390" font-size="68" text-anchor="middle">0.87</text>
<text class="s" x="542.5" y="3057.5" font-size="86.5" text-anchor="middle">TC4</text>
<text class="s" x="1130" y="3057.5" font-size="86.5" text-anchor="middle">PEO</text>
<text class="s" x="1726" y="3057.5" font-size="86.5" text-anchor="middle">NP-PEO</text>
<text class="s" transform="translate(113.5 2291) rotate(-90)" font-size="87" text-anchor="middle">Infrared emissivity</text>
<text class="s" x="12" y="1652" font-size="104" font-weight="bold">(b)</text>
</g>
</svg></body></html>
